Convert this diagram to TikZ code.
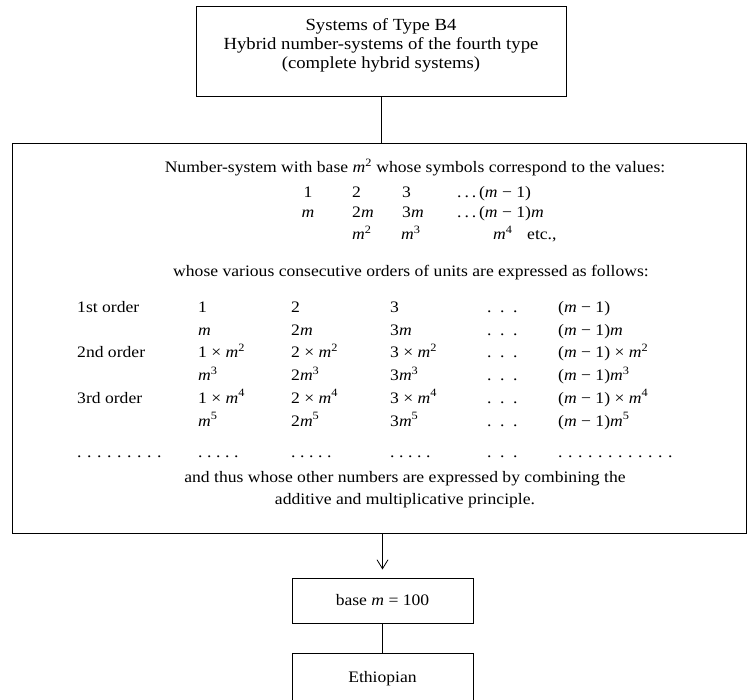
\documentclass[tikz,border=0pt]{standalone}
\usepackage{fontspec}
\setmainfont{Liberation Serif}[FakeStretch=1.1]
\usetikzlibrary{arrows.meta}
\newcommand\mi{\textit{m}}
\newcommand\spow[1]{\textsuperscript{#1}}
\newcommand\dotrow[2]{{\spaceskip=#2\relax\xspaceskip=#2\relax #1}}
\newcommand\mdots{\dotrow{. . .}{8.6pt}}
\begin{document}
\begin{tikzpicture}[x=1pt,y=-1pt,
  txt/.style={inner sep=0pt,font=\fontsize{16}{19}\selectfont},
  lt/.style={txt,anchor=base west},
  ct/.style={txt,anchor=base},
  box/.style={draw,line width=1pt,inner sep=0pt,font=\fontsize{16}{19}\selectfont},
  conn/.style={line width=0.8pt}]
\useasboundingbox (0,0) rectangle (752,700);

% top box
\node[box,minimum width=370pt,minimum height=90pt,font=\fontsize{17}{19}\selectfont] (top) at (381,52)
  {\begin{tabular}{@{}c@{}}Systems of Type B4\\ Hybrid number-systems of the fourth type\\ (complete hybrid systems)\\[12pt]\end{tabular}};

% main box
\node[box,minimum width=734pt,minimum height=389pt] (main) at (379,338.5) {};

\node[ct] (intro) at (415,173) {Number-system with base \mi\spow{2} whose symbols correspond to the values:};
\node[ct] (v11) at (308,198) {1};
\node[lt] (v12) at (352,198) {2};
\node[lt] (v13) at (402,198) {3};
\node[lt] (v14) at (457,198) {\dotrow{. . .}{3pt}\,(\mi{} − 1)};
\node[ct] (v21) at (308,218) {\mi};
\node[lt] (v22) at (352,218) {2\mi};
\node[lt] (v23) at (402,218) {3\mi};
\node[lt] (v24) at (457,218) {\dotrow{. . .}{3pt}\,(\mi{} − 1)\mi};
\node[lt] (v32) at (352,240) {\mi\spow{2}};
\node[lt] (v33) at (401,240) {\mi\spow{3}};
\node[lt] (v34) at (493,240) {\mi\spow{4}};
\node[lt] (v35) at (527,240) {etc.,};
\node[ct] (whose) at (411,277) {whose various consecutive orders of units are expressed as follows:};

% table
\node[lt] (l1) at (77,313) {1st order};
\node[lt] (l2) at (77,358) {2nd order};
\node[lt] (l3) at (77,403) {3rd order};

\node[lt] (a1) at (198,313) {1};
\node[lt] (a2) at (291,313) {2};
\node[lt] (a3) at (390,313) {3};
\node[lt] (a4) at (487,313) {\mdots};
\node[lt] (a5) at (558,313) {(\mi{} − 1)};

\node[lt] (b1) at (198,336) {\mi};
\node[lt] (b2) at (291,336) {2\mi};
\node[lt] (b3) at (390,336) {3\mi};
\node[lt] (b4) at (487,336) {\mdots};
\node[lt] (b5) at (558,336) {(\mi{} − 1)\mi};

\node[lt] (c1) at (198,358) {1 × \mi\spow{2}};
\node[lt] (c2) at (291,358) {2 × \mi\spow{2}};
\node[lt] (c3) at (390,358) {3 × \mi\spow{2}};
\node[lt] (c4) at (487,358) {\mdots};
\node[lt] (c5) at (558,358) {(\mi{} − 1) × \mi\spow{2}};

\node[lt] (d1) at (198,381) {\mi\spow{3}};
\node[lt] (d2) at (291,381) {2\mi\spow{3}};
\node[lt] (d3) at (390,381) {3\mi\spow{3}};
\node[lt] (d4) at (487,381) {\mdots};
\node[lt] (d5) at (558,381) {(\mi{} − 1)\mi\spow{3}};

\node[lt] (e1) at (198,403) {1 × \mi\spow{4}};
\node[lt] (e2) at (291,403) {2 × \mi\spow{4}};
\node[lt] (e3) at (390,403) {3 × \mi\spow{4}};
\node[lt] (e4) at (487,403) {\mdots};
\node[lt] (e5) at (558,403) {(\mi{} − 1) × \mi\spow{4}};

\node[lt] (f1) at (198,426) {\mi\spow{5}};
\node[lt] (f2) at (291,426) {2\mi\spow{5}};
\node[lt] (f3) at (390,426) {3\mi\spow{5}};
\node[lt] (f4) at (487,426) {\mdots};
\node[lt] (f5) at (558,426) {(\mi{} − 1)\mi\spow{5}};

\node[lt] (g0) at (77,457) {\dotrow{. . . . . . . . .}{5.6pt}};
\node[lt] (g1) at (198,457) {\dotrow{. . . . .}{4.6pt}};
\node[lt] (g2) at (291,457) {\dotrow{. . . . .}{4.6pt}};
\node[lt] (g3) at (390,457) {\dotrow{. . . . .}{4.6pt}};
\node[lt] (g4) at (487,457) {\mdots};
\node[lt] (g5) at (558,457) {\dotrow{. . . . . . . . . . . .}{5.6pt}};

\node[ct] (thus) at (405,482) {and thus whose other numbers are expressed by combining the};
\node[ct] (addi) at (405,504) {additive and multiplicative principle.};

% lower boxes
\node[box,minimum width=181pt,minimum height=45pt] (base) at (382.5,600.5) {base \mi{} = 100};
\node[box,minimum width=181pt,minimum height=52pt] (eth) at (382.5,679) {Ethiopian};

% connectors
\draw[conn] (top.south) -- (top.south |- main.north);
\draw[conn,-{Straight Barb[length=9pt,width=11pt]},shorten >=8pt] (base.north |- main.south) -- (base.north);
\draw[conn] (base.south) -- (eth.north);
\end{tikzpicture}
\end{document}
